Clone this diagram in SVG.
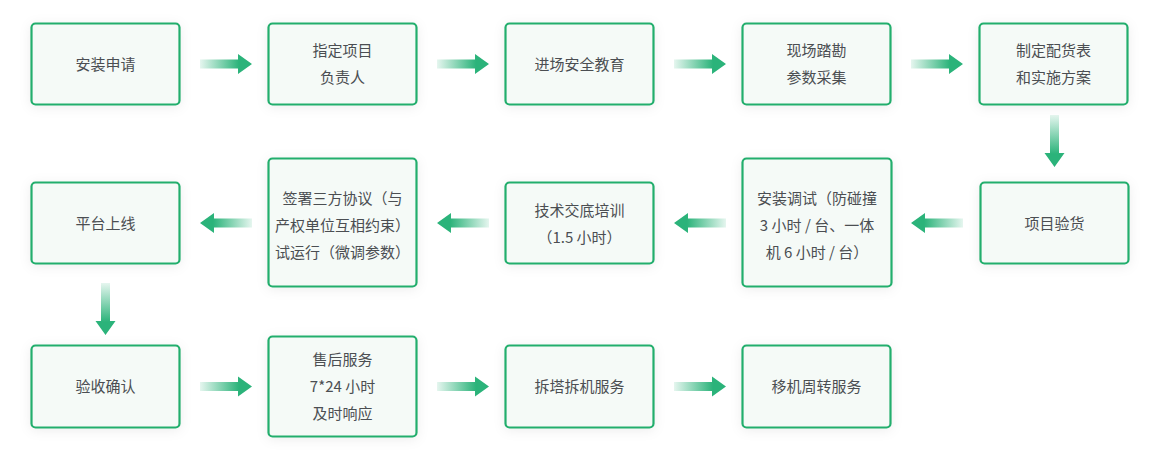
<svg xmlns="http://www.w3.org/2000/svg" width="1160" height="476" viewBox="0 0 1160 476">
<defs>
<style>
.box{fill:#f5faf7;stroke:#24ae6d;stroke-width:2.2;filter:url(#sh)}
.t{font-family:"Noto Sans CJK SC","Noto Sans",sans-serif;font-size:15px;fill:#4b4e52;text-anchor:middle}
</style>
<filter id="sh" x="-20%" y="-20%" width="140%" height="140%">
<feDropShadow dx="0" dy="2" stdDeviation="6" flood-color="#000" flood-opacity="0.07"/>
</filter>
<linearGradient id="ag" gradientUnits="userSpaceOnUse" x1="0" y1="0" x2="52" y2="0">
<stop offset="0" stop-color="#2bb37a" stop-opacity="0.12"/>
<stop offset="0.75" stop-color="#2bb37a" stop-opacity="1"/>
<stop offset="1" stop-color="#2bb37a" stop-opacity="1"/>
</linearGradient>
<path id="arr" d="M0,-4.5 H38 V-10 L52,0 L38,10 V4.5 H0 Z" fill="url(#ag)"/>
</defs>
<rect width="1160" height="476" fill="#ffffff"/>
<g id="connectors">
<use href="#arr" transform="translate(200,64)"/>
<use href="#arr" transform="translate(437,64)"/>
<use href="#arr" transform="translate(674,64)"/>
<use href="#arr" transform="translate(911,64)"/>
<use href="#arr" transform="translate(1054.5,115) rotate(90)"/>
<use href="#arr" transform="translate(963,223) rotate(180)"/>
<use href="#arr" transform="translate(726,223) rotate(180)"/>
<use href="#arr" transform="translate(489,223) rotate(180)"/>
<use href="#arr" transform="translate(252,223) rotate(180)"/>
<use href="#arr" transform="translate(105.5,283) rotate(90)"/>
<use href="#arr" transform="translate(200,386.5)"/>
<use href="#arr" transform="translate(437,386.5)"/>
<use href="#arr" transform="translate(674,386.5)"/>
</g>
<g id="n1"><rect class="box" x="31.5" y="23.5" width="148" height="81" rx="4"/><text class="t" x="105.5" y="69.5">安装申请</text></g>
<g id="n2"><rect class="box" x="268.5" y="23.5" width="148" height="81" rx="4"/><text class="t" x="342.5" y="56">指定项目</text><text class="t" x="342.5" y="83">负责人</text></g>
<g id="n3"><rect class="box" x="505.5" y="23.5" width="148" height="81" rx="4"/><text class="t" x="579.5" y="69.5">进场安全教育</text></g>
<g id="n4"><rect class="box" x="742.5" y="23.5" width="148" height="81" rx="4"/><text class="t" x="816.5" y="56">现场踏勘</text><text class="t" x="816.5" y="83">参数采集</text></g>
<g id="n5"><rect class="box" x="979.5" y="23.5" width="148" height="81" rx="4"/><text class="t" x="1053.5" y="56">制定配货表</text><text class="t" x="1053.5" y="83">和实施方案</text></g>
<g id="n6"><rect class="box" x="980.5" y="182.5" width="148" height="81" rx="4"/><text class="t" x="1054.5" y="228.5">项目验货</text></g>
<g id="n7"><rect class="box" x="742.5" y="158.5" width="149" height="128" rx="4"/><text class="t" x="817" y="203.5">安装调试（防碰撞</text><text class="t" x="817" y="230.5">3 小时 / 台、一体</text><text class="t" x="817" y="257.5">机 6 小时 / 台）</text></g>
<g id="n8"><rect class="box" x="505.5" y="182.5" width="148" height="81" rx="4"/><text class="t" x="579.5" y="215.5">技术交底培训</text><text class="t" x="579.5" y="242.5">（1.5 小时）</text></g>
<g id="n9"><rect class="box" x="268.5" y="158.5" width="148" height="128" rx="4"/><text class="t" x="342.5" y="203.5">签署三方协议（与</text><text class="t" x="342.5" y="230.5">产权单位互相约束）</text><text class="t" x="342.5" y="257.5">试运行（微调参数）</text></g>
<g id="n10"><rect class="box" x="31.5" y="182.5" width="148" height="81" rx="4"/><text class="t" x="105.5" y="228.5">平台上线</text></g>
<g id="n11"><rect class="box" x="31.5" y="345.5" width="148" height="82" rx="4"/><text class="t" x="105.5" y="392">验收确认</text></g>
<g id="n12"><rect class="box" x="268.5" y="336.5" width="148" height="100" rx="4"/><text class="t" x="342.5" y="365">售后服务</text><text class="t" x="342.5" y="392">7*24 小时</text><text class="t" x="342.5" y="419">及时响应</text></g>
<g id="n13"><rect class="box" x="505.5" y="345.5" width="148" height="82" rx="4"/><text class="t" x="579.5" y="392">拆塔拆机服务</text></g>
<g id="n14"><rect class="box" x="742.5" y="345.5" width="148" height="82" rx="4"/><text class="t" x="816.5" y="392">移机周转服务</text></g>
</svg>
